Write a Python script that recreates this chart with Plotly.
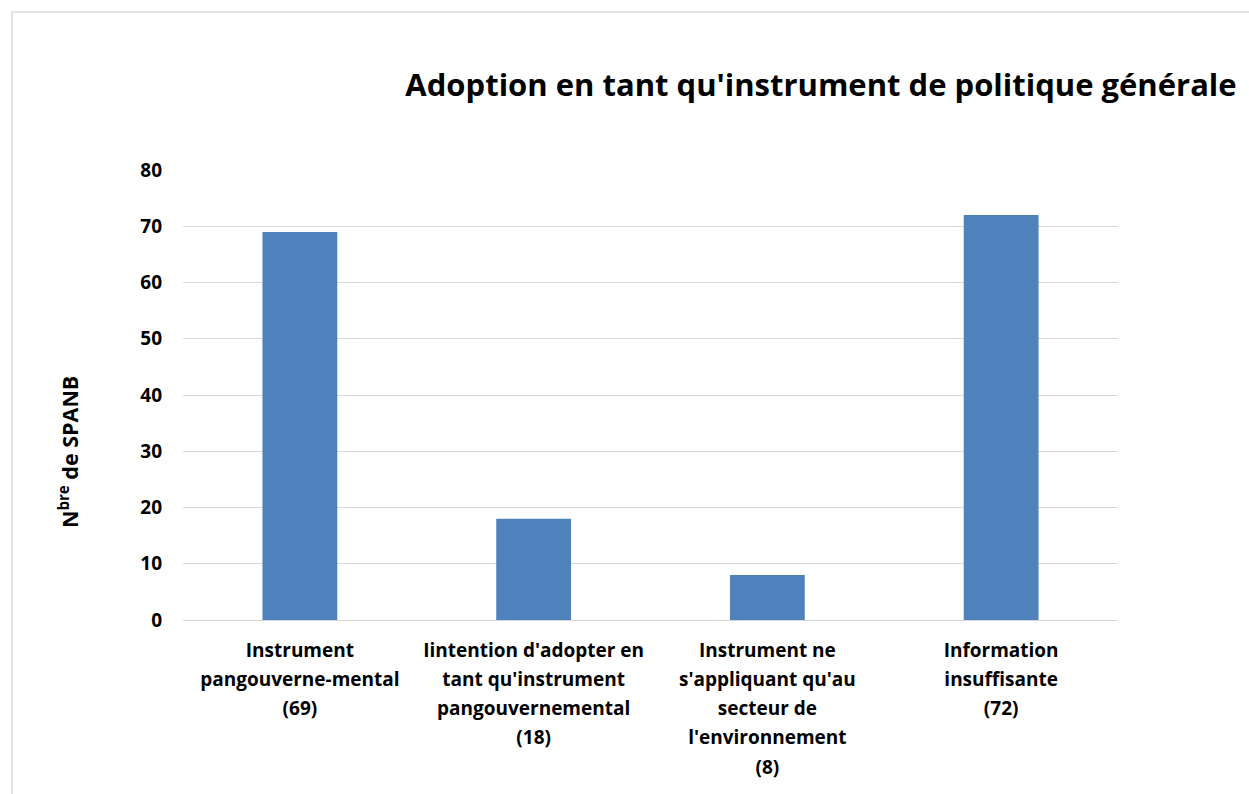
import plotly.graph_objects as go

categories = [
    "Instrument<br>pangouverne-mental<br>(69)",
    "Iintention d'adopter en<br>tant qu'instrument<br>pangouvernemental<br>(18)",
    "Instrument ne<br>s'appliquant qu'au<br>secteur de<br>l'environnement<br>(8)",
    "Information<br>insuffisante<br>(72)",
]
values = [69, 18, 8, 72]
y_ticks = [0, 10, 20, 30, 40, 50, 60, 70, 80]

FONT = "Open Sans"
W, H = 1249, 794
L, R, T, B = 183, 131, 170, 174
pw = W - L - R
ph = H - T - B

fig = go.Figure(go.Bar(
    x=categories, y=values, marker_color="#4F81BD", width=0.32,
    marker_line_width=0,
))

fig.update_layout(
    width=W, height=H,
    margin=dict(l=L, r=R, t=T, b=B),
    paper_bgcolor="white", plot_bgcolor="white",
    showlegend=False,
    font=dict(family=FONT, color="black"),
    title=dict(text="<b>Adoption en tant qu'instrument de politique générale</b>",
               x=821 / W, xanchor="center", y=1 - 85 / H, yanchor="middle",
               font=dict(size=31, family=FONT, color="black")),
)
fig.update_yaxes(
    range=[0, 80], tickvals=y_ticks, showgrid=True, gridcolor="#d9d9d9", gridwidth=1,
    zeroline=True, zerolinecolor="#d9d9d9", zerolinewidth=1,
    showline=False, ticks="", ticklabelstandoff=20,
    tickfont=dict(size=19, family=FONT, color="black", weight="bold"),
)
fig.update_xaxes(
    showline=False, ticks="", ticklabelstandoff=13, tickangle=0,
    tickfont=dict(size=22.5, family=FONT, color="black", weight="bold"),
    ticktext=["<br>".join('<span style="font-size:19px">' + s + "</span>" for s in c.split("<br>"))
              for c in categories],
    tickvals=categories,
)
fig.add_annotation(
    text="<b>N<sup>bre</sup> de SPANB</b>", textangle=-90,
    xref="paper", yref="paper", x=(68 - L) / pw, y=(H - B - 452) / ph,
    xanchor="center", yanchor="middle", showarrow=False,
    font=dict(size=21.5, family=FONT, color="black"),
)
# chart border (light gray), extends beyond the visible page on right/bottom
fig.add_shape(type="rect", xref="paper", yref="paper",
              x0=(12 - L) / pw, x1=(W + 20 - L) / pw,
              y0=-(H + 20 - (H - B)) / ph, y1=(H - B - 12) / ph,
              line=dict(color="#d9d9d9", width=1.5), fillcolor="rgba(0,0,0,0)", layer="below")

fig.write_html("out.html")
